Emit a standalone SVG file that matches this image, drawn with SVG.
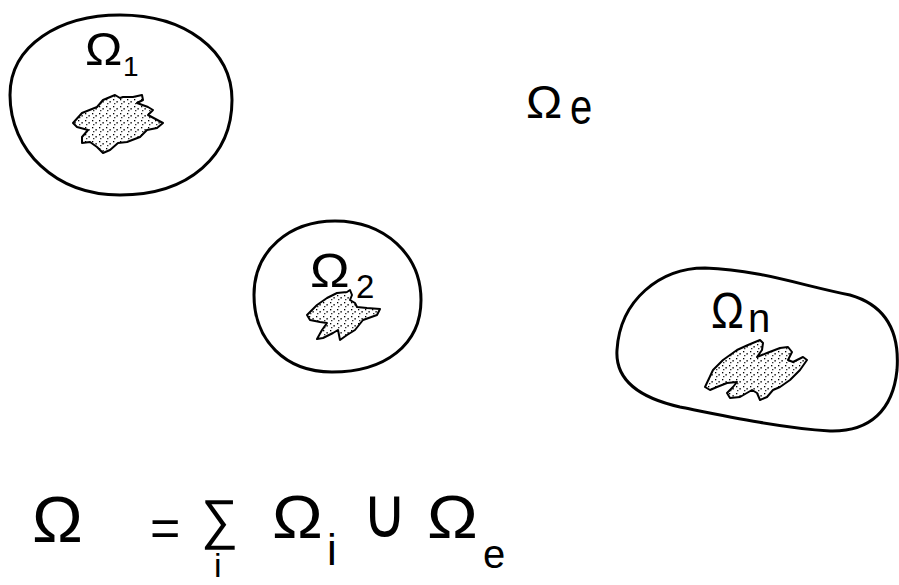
<svg xmlns="http://www.w3.org/2000/svg" width="899" height="585" viewBox="0 0 899 585">
<defs>
<pattern id="dots" width="7" height="7" patternUnits="userSpaceOnUse">
<rect x="1" y="1" width="1.3" height="1.3" fill="#000"/>
<rect x="4.5" y="3" width="1.2" height="1.6" fill="#000"/>
<rect x="2" y="5.2" width="1.4" height="1" fill="#000"/>
</pattern>
</defs>
<style>
.outline{fill:none;stroke:#000;stroke-width:3;stroke-linejoin:round}
.shade{fill:url(#dots);stroke:#000;stroke-width:2;stroke-linejoin:round}
text{font-family:"Liberation Sans","DejaVu Sans",sans-serif;fill:#000}
</style>
<rect width="899" height="585" fill="#fff"/>
<g id="omega1">
<path class="outline" d="M 10,95 C 10,45 60,15 120,15 C 185,15 232,50 232,100 C 232,155 190,195 120,195 C 55,195 10,150 10,95 Z"/>
<path class="shade" d="M73,123 L82,113 L97,107 L103,100 L115,95 L120,98 L123,97 L133,97 L142,95 L143,100 L137,103 L148,107 L153,110 L148,115 L163,123 L157,128 L147,130 L140,137 L127,142 L118,143 L110,150 L103,153 L97,147 L90,142 L82,143 L82,137 L88,130 L77,127 Z"/>
<text transform="translate(85,65) scale(1,0.94)" font-size="50">Ω</text>
<text x="123" y="76" font-size="28">1</text>
</g>
<g id="omega2">
<path class="outline" d="M 254,295 C 254,250 290,221 335,221 C 385,221 421,255 421,300 C 421,345 385,372 332,372 C 285,372 254,340 254,295 Z"/>
<path class="shade" d="M307,315 L317,305 L327,298 L337,293 L347,292 L350,290 L352,295 L350,300 L355,303 L357,307 L367,308 L380,309 L377,315 L363,320 L355,330 L347,335 L340,340 L338,330 L333,333 L323,338 L317,339 L322,330 L327,323 L320,322 L310,320 Z"/>
<text transform="translate(310,287) scale(1,0.92)" font-size="53">Ω</text>
<text x="356" y="298" font-size="33">2</text>
</g>
<g id="omegan">
<path class="outline" d="M 617,350 C 620,300 660,268 705,268 C 760,270 800,285 850,295 C 885,305 900,330 897,370 C 893,410 870,432 830,431 C 780,428 720,415 680,407 C 640,398 615,380 617,350 Z"/>
<path class="shade" d="M705,387 L713,370 L723,360 L737,350 L748,345 L760,340 L763,343 L762,350 L757,357 L767,353 L780,348 L788,347 L792,352 L788,360 L793,362 L803,357 L807,360 L800,370 L790,380 L780,387 L773,390 L767,397 L760,400 L757,393 L752,390 L740,397 L730,398 L727,393 L733,387 L737,382 L727,383 L717,387 L710,390 Z"/>
<text transform="translate(711,328) scale(1,1.14)" font-size="44">Ω</text>
<text x="748" y="332" font-size="40">n</text>
</g>
<g id="omegae">
<text transform="translate(526,118) scale(1,0.97)" font-size="48.5">Ω</text>
<text transform="translate(570,124) scale(1,1.23)" font-size="40">e</text>
</g>
<g id="formula">
<text transform="translate(32,542) scale(1,0.945)" font-size="68">Ω</text>
<text x="150" y="546" font-size="52">=</text>
<text transform="translate(201,538) scale(1,1.05)" font-size="52">∑</text>
<text x="214" y="577" font-size="34">i</text>
<text transform="translate(272,538) scale(1,0.9)" font-size="68">Ω</text>
<text x="327" y="565" font-size="44">i</text>
<text transform="translate(362,537) scale(1,1.13)" font-size="62">∪</text>
<text transform="translate(427,538) scale(1,0.9)" font-size="68">Ω</text>
<text x="483" y="568" font-size="40">e</text>
</g>
</svg>
